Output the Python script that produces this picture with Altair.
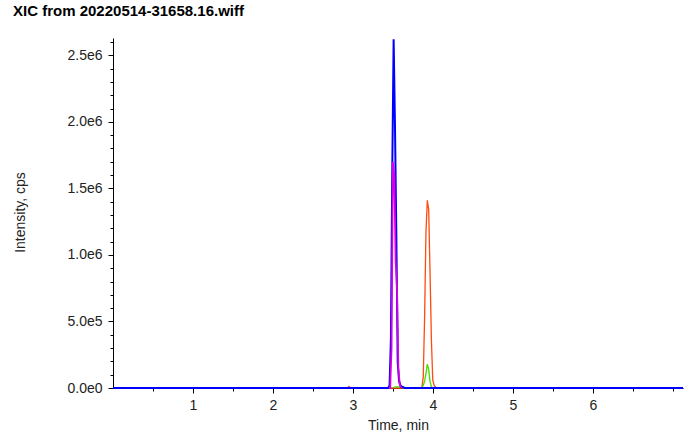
import altair as alt
import pandas as pd

# ---- data ----
blue_t = [0.0, 3.44, 3.457, 3.474, 3.491, 3.508, 3.525, 3.542, 3.559, 3.576, 3.593, 3.61, 3.63, 3.65, 7.125]
blue_i = [0, 0, 20000, 370000, 1650000, 2620000, 1960000, 1130000, 190000, 50000, 20000, 10000, 5000, 0, 0]

magenta_t = [3.45, 3.465, 3.482, 3.499, 3.516, 3.533, 3.55, 3.567, 3.584, 3.60]
magenta_i = [0, 0, 300000, 1700000, 1600000, 950000, 750000, 150000, 30000, 0]

orange_t = [0.0, 2.93, 2.95, 2.97, 3.86, 3.878, 3.895, 3.912, 3.929, 3.946, 3.963, 3.98, 3.997, 4.014, 4.03, 4.05, 7.125]
orange_i = [0, 0, 12000, 0, 0, 80000, 530000, 1170000, 1410000, 1340000, 870000, 360000, 60000, 20000, 10000, 0, 0]

green_t = [3.5, 3.53, 3.63, 3.65, 3.86, 3.878, 3.895, 3.912, 3.929, 3.946, 3.963, 3.98, 3.997, 4.01]
green_i = [0, 8000, 8000, 0, 0, 20000, 50000, 110000, 180000, 140000, 50000, 10000, 0, 0]

series_names = ["orange", "green", "blue", "magenta"]
series_colors = ["#FF4A10", "#44DD00", "#0000FF", "#DD00DD"]
series_widths = [1.3, 1.3, 2.0, 1.8]
series_data = [(orange_t, orange_i), (green_t, green_i), (blue_t, blue_i), (magenta_t, magenta_i)]

x_major = [1, 2, 3, 4, 5, 6]
x_minor = [0.5, 1.5, 2.5, 3.5, 4.5, 5.5, 6.5, 7.0]
y_major = [0, 500000, 1000000, 1500000, 2000000, 2500000]
y_minor = [i * 100000 for i in range(27)]

X_MAX = 7.125
Y_MAX = 2630000

FONT = "Liberation Sans"

rows = []
for name, (ts, vs) in zip(series_names, series_data):
    for t, v in zip(ts, vs):
        rows.append({"series": name, "time": t, "intensity": v})
df = pd.DataFrame(rows)

xscale = alt.Scale(domain=[0, X_MAX], nice=False, zero=False)
yscale = alt.Scale(domain=[0, Y_MAX], nice=False)

label_expr_y = "replace(format(datum.value, '.1e'), '+', '')"

x_axis_major = alt.Axis(values=x_major, format="d", grid=False, tickSize=5,
                        labelFontSize=14, labelFont=FONT, labelColor="#222222",
                        labelPadding=5, domainColor="#000000", tickColor="#000000",
                        title="Time, min", titleFont=FONT, titleFontSize=14,
                        titleFontWeight="normal", titleColor="#222222",
                        titleX=285, titleY=37, titleBaseline="middle", orient="bottom")
y_axis_major = alt.Axis(values=y_major, labelExpr=label_expr_y, grid=False, tickSize=5,
                        labelFontSize=14, labelFont=FONT, labelColor="#222222",
                        labelPadding=6, domainColor="#000000", tickColor="#000000",
                        title="Intensity, cps", titleFont=FONT, titleFontSize=14,
                        titleFontWeight="normal", titleColor="#222222",
                        titleX=-93, titleY=174, titleBaseline="middle", titleAngle=-90,
                        orient="left")

layers = []
for k, (name, color, w) in enumerate(zip(series_names, series_colors, series_widths)):
    sub = df[df.series == name]
    enc_x = alt.X("time:Q", scale=xscale, axis=x_axis_major if k == 0 else None)
    enc_y = alt.Y("intensity:Q", scale=yscale, axis=y_axis_major if k == 0 else None)
    layers.append(
        alt.Chart(sub).mark_line(color=color, strokeWidth=w, interpolate="linear")
        .encode(x=enc_x, y=enc_y, order="time:Q")
    )

# minor ticks layer (axis only)
minor = alt.Chart(df[df.series == "blue"]).mark_line(opacity=0).encode(
    x=alt.X("time:Q", scale=xscale,
            axis=alt.Axis(values=x_minor, labels=False, grid=False, tickSize=3, domain=False,
                          tickColor="#000000", title=None, orient="bottom")),
    y=alt.Y("intensity:Q", scale=yscale,
            axis=alt.Axis(values=y_minor, labels=False, grid=False, tickSize=3, domain=False,
                          tickColor="#000000", title=None, orient="left")),
)

chart = (
    alt.layer(minor, *layers)
    .resolve_axis(x="independent", y="independent")
    .properties(
        width=570, height=350,
        background="#ffffff",
        autosize=alt.AutoSizeParams(type="none"),
        padding={"left": 113, "top": 38, "right": 6, "bottom": 51},
        title=alt.TitleParams("XIC from 20220514-31658.16.wiff", anchor="start",
                              font=FONT, fontSize=15, fontWeight="bold", color="#000000",
                              dx=0, dy=-9, offset=0, baseline="middle"),
    )
    .configure_view(strokeWidth=0, stroke="transparent")
)

chart.save("out.html", embed_options={"renderer": "svg", "actions": False})
